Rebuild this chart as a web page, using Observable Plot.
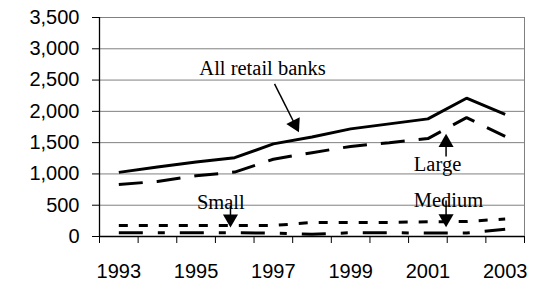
<!DOCTYPE html>
<html><head><meta charset="utf-8">
<script src="https://cdn.jsdelivr.net/npm/d3@7"></script>
<script src="https://cdn.jsdelivr.net/npm/@observablehq/plot@0.6"></script>
<style>html,body{margin:0;padding:0;background:#fff}</style>
</head><body><div id="chart"></div>
<script>
const years = [1993, 1994, 1995, 1996, 1997, 1998, 1999, 2000, 2001, 2002, 2003];
const allRetail = [1025, 1110, 1190, 1260, 1480, 1590, 1720, 1800, 1880, 2210, 1950];
const large = [830, 880, 970, 1030, 1235, 1340, 1440, 1500, 1565, 1900, 1600];
const small = [175, 175, 175, 175, 175, 225, 225, 225, 235, 240, 280];
const medium = [60, 60, 60, 60, 55, 35, 60, 60, 55, 55, 115];
const seriesNames = ["All retail banks", "Large", "Small", "Medium"];
const yTicks = [0, 500, 1000, 1500, 2000, 2500, 3000, 3500];
const xTickLabels = [1993, 1995, 1997, 1999, 2001, 2003];

// annotations (data coordinates)
const labelTexts = ["All retail banks", "Large", "Medium", "Small"];
const labelX = [1996.72, 2001.25, 2001.53, 1995.64];
const labelY = [2587, 1054, 468, 447];
const arrowX1 = [1997.03, 2001.47, 2001.47, 1995.89];
const arrowY1 = [2438, 1277, 575, 495];
const arrowX2 = [1997.56, 2001.47, 2001.47, 1995.89];
const arrowY2 = [1790, 1501, 287, 283];
const arrowRotate = [153, 0, 180, 180];

const seriesValues = [allRetail, large, small, medium];
const rows = seriesNames.flatMap((name, i) => years.map((year, j) => ({name, year, value: seriesValues[i][j]})));
const boundaries = [...years.map(y => y - 0.5), years[years.length - 1] + 0.5];
const labels = labelTexts.map((text, i) => ({text, x: labelX[i], y: labelY[i]}));
const arrows = labelTexts.map((t, i) => ({x1: arrowX1[i], y1: arrowY1[i], x2: arrowX2[i], y2: arrowY2[i], rotate: arrowRotate[i]}));

const dashes = {"All retail banks": null, "Large": "24,14", "Small": "9,11", "Medium": "24,15,7,15"};

const chart = Plot.plot({
  width: 548,
  height: 281,
  marginLeft: 99,
  marginRight: 24,
  marginTop: 17,
  marginBottom: 45,
  style: {fontFamily: "Liberation Sans", fontSize: "20px", background: "white", color: "black"},
  x: {type: "linear", domain: [boundaries[0], boundaries[boundaries.length - 1]], axis: null},
  y: {domain: [0, 3500], axis: null},
  marks: [
    Plot.gridY(yTicks, {stroke: "#808080", strokeOpacity: 1, strokeWidth: 1}),
    Plot.frame({stroke: "#808080", strokeWidth: 1}),
    Plot.ruleX([boundaries[0]], {stroke: "black", strokeWidth: 1.3}),
    Plot.ruleY([0], {stroke: "black", strokeWidth: 1.3}),
    Plot.axisY(yTicks, {tickSize: 7, tickPadding: 13, tickFormat: d3.format(","), label: null, fontSize: 20}),
    Plot.axisX(boundaries, {tickSize: 7, tickFormat: () => "", label: null}),
    Plot.axisX(xTickLabels, {tickSize: 0, tickPadding: 27, tickFormat: d => String(d), label: null, fontSize: 20}),
    ...seriesNames.map(name => Plot.line(rows.filter(r => r.name === name), {
      x: "year", y: "value", stroke: "black", strokeWidth: 3,
      strokeDasharray: dashes[name], strokeLinejoin: "miter", strokeLinecap: "butt"
    })),
    Plot.link(arrows, {x1: "x1", y1: "y1", x2: "x2", y2: "y2", stroke: "black", strokeWidth: 1.5}),
    Plot.dot(arrows, {x: "x2", y: "y2", symbol: "triangle", r: 5.6, fill: "black", stroke: "none", rotate: "rotate"}),
    Plot.text(labels, {x: "x", y: "y", text: "text", fontFamily: "Liberation Serif", fontSize: 20.5, lineAnchor: "bottom", textAnchor: "middle", fill: "black"})
  ]
});
document.getElementById("chart").appendChild(chart);
</script>
</body></html>
